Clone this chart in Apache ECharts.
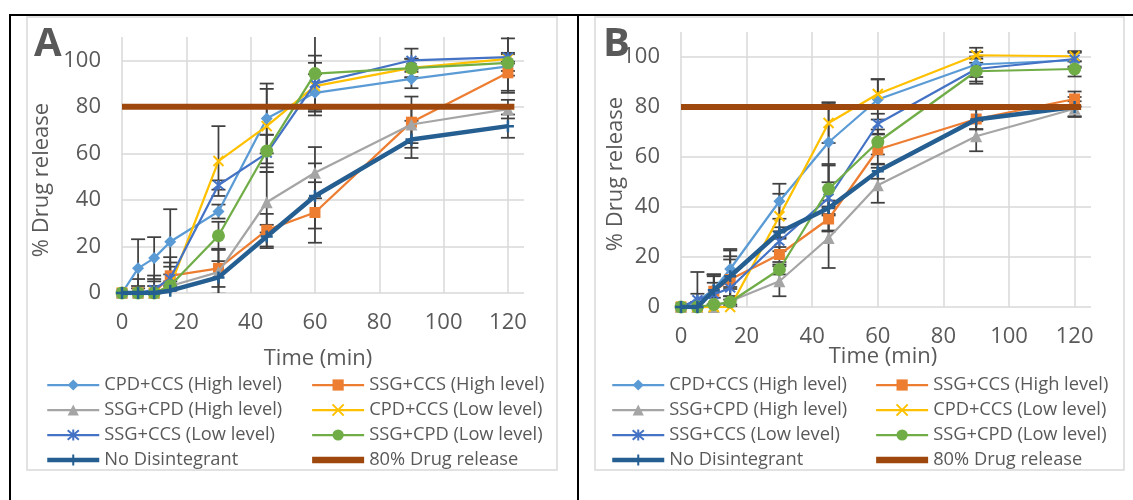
<!DOCTYPE html>
<html>
<head>
<meta charset="utf-8">
<script src="https://cdn.jsdelivr.net/npm/echarts@6/dist/echarts.min.js"></script>
<style>
  html, body { margin: 0; padding: 0; background: #ffffff; }
  #chart { width: 1133px; height: 500px; }
</style>
</head>
<body>
<div id="chart"></div>
<script>
// Sampling times (min)
const times = [0, 5, 10, 15, 30, 45, 60, 90, 120];
const xTicks = [0, 20, 40, 60, 80, 100, 120];
const yTicks = [0, 20, 40, 60, 80, 100];

const seriesNames = [
  'CPD+CCS (High level)', 'SSG+CCS (High level)', 'SSG+CPD (High level)',
  'CPD+CCS (Low level)', 'SSG+CCS (Low level)', 'SSG+CPD (Low level)',
  'No Disintegrant'
];
const targetName = '80% Drug release';
const targetLevel = 80;
const targetTimes = [0, 122];

// Panel A: mean % released
const aCpdCcsHigh = [0, 10.6, 15, 22, 35, 75, 86, 92, 97.4];
const aSsgCcsHigh = [0, 0, 0, 7.4, 10.6, 27, 34.6, 73.4, 94.6];
const aSsgCpdHigh = [0, 0, 0, 3, 9, 39, 51.7, 72.4, 79];
const aCpdCcsLow  = [0, 0, 0, 3, 56.7, 71.7, 88.9, 96.7, 100.6];
const aSsgCcsLow  = [0, 0, 1.5, 6.3, 46.4, 60, 90, 100, 101.4];
const aSsgCpdLow  = [0, 0, 0, 3.1, 24.6, 61, 94.3, 96.6, 98.9];
const aNoDisint   = [0, 0, 0, 1, 6.7, 24.3, 41.7, 66, 71.7];

// Panel A: standard deviations
const aCpdCcsHighSd = [0, 12.5, 9, 14, 3, 15, 8, 4, 2];
const aSsgCcsHighSd = [0, 0, 0, 8, 8, 7, 13, 11, 8.6];
const aSsgCpdHighSd = [0, 0, 0, 1, 10, 13, 11, 8, 4];
const aCpdCcsLowSd  = [0, 0, 0, 2, 15, 16, 10, 4, 2];
const aSsgCcsLowSd  = [0, 3, 6, 5, 2, 8, 12, 5, 8];
const aSsgCpdLowSd  = [0, 6, 5, 10, 6, 7, 18, 4, 12];
const aNoDisintSd   = [0, 2, 3, 2, 7, 5, 14, 8, 5];

// Panel B: mean % released
const bCpdCcsHigh = [0, 2.3, 7, 15.2, 42.3, 65.9, 83, 97, 98.7];
const bSsgCcsHigh = [0, 0, 6.3, 11, 21, 35.2, 63, 75.2, 83.2];
const bSsgCpdHigh = [0, 0, 0, 2.3, 10.3, 27.6, 48.7, 68.3, 79.3];
const bCpdCcsLow  = [0, 0, 0, 0, 36.3, 73.6, 85.2, 100.7, 100.3];
const bSsgCcsLow  = [0, 3, 5, 7.6, 26.3, 43.6, 73.3, 95.2, 99.2];
const bSsgCpdLow  = [0, 0, 1, 2, 15, 47.2, 66, 94.3, 95.2];
const bNoDisint   = [0, 0, 6.7, 12.3, 29.9, 39.6, 54.3, 75, 80];

// Panel B: standard deviations
const bCpdCcsHighSd = [0, 3, 6, 8, 7, 16, 8, 5, 3];
const bSsgCcsHighSd = [0, 2, 6, 8, 3, 5, 6, 4, 3];
const bSsgCpdHighSd = [0, 0, 1, 2, 6, 12, 7, 6, 3];
const bCpdCcsLowSd  = [0, 0, 0, 1, 9, 8, 6, 3, 2];
const bSsgCcsLowSd  = [0, 11, 8, 15, 4, 13, 4, 5, 3];
const bSsgCpdLowSd  = [0, 0, 12, 6, 2, 10, 5, 5, 3];
const bNoDisintSd   = [0, 2, 3, 8, 2, 3, 3, 4, 4];

const panelA = {
  means: [aCpdCcsHigh, aSsgCcsHigh, aSsgCpdHigh, aCpdCcsLow, aSsgCcsLow, aSsgCpdLow, aNoDisint],
  sds: [aCpdCcsHighSd, aSsgCcsHighSd, aSsgCpdHighSd, aCpdCcsLowSd, aSsgCcsLowSd, aSsgCpdLowSd, aNoDisintSd]
};
const panelB = {
  means: [bCpdCcsHigh, bSsgCcsHigh, bSsgCpdHigh, bCpdCcsLow, bSsgCcsLow, bSsgCpdLow, bNoDisint],
  sds: [bCpdCcsHighSd, bSsgCcsHighSd, bSsgCpdHighSd, bCpdCcsLowSd, bSsgCcsLowSd, bSsgCpdLowSd, bNoDisintSd]
};

// Marker and line styling per formulation
const styles = [
  { color: '#5B9BD5', symbol: 'diamond', size: 12, width: 2.25 },
  { color: '#ED7D31', symbol: 'rect', size: 11, width: 2.25 },
  { color: '#A5A5A5', symbol: 'triangle', size: 12, width: 2.25 },
  { color: '#FFC000', symbol: 'path://M0,0L10,10M10,0L0,10', size: 10, width: 2.25, stroke: true },
  { color: '#4472C4', symbol: 'path://M0,0L10,10M10,0L0,10M5,-1L5,11', size: 10, width: 2.25, stroke: true },
  { color: '#70AD47', symbol: 'circle', size: 13, width: 2.25 },
  { color: '#255E91', symbol: 'path://M5,0L5,10M0,5L10,5', size: 12, width: 4.5, stroke: true }
];
const targetColor = '#9E480E';
const textColor = '#595959';
const gridColor = '#D9D9D9';
const errColor = '#404040';
const fontFamily = '"Open Sans", "Noto Sans", sans-serif';

const yMax = 110;
const xMax = 125;

function makeAxes(gridIndex) {
  const xAxis = {
    type: 'value', gridIndex: gridIndex, min: 0, max: xMax, interval: 20,
    axisLine: { show: false }, axisTick: { show: false },
    axisLabel: {
      color: textColor, fontSize: 22, fontFamily: fontFamily, margin: 19,
      showMaxLabel: false,
      formatter: v => (xTicks.indexOf(v) >= 0 ? String(v) : '')
    },
    splitLine: { show: true, showMaxLine: false, lineStyle: { color: gridColor, width: 1.5 } }
  };
  const yAxis = {
    type: 'value', gridIndex: gridIndex, min: 0, max: yMax, interval: 20,
    axisLine: { show: false }, axisTick: { show: false },
    axisLabel: {
      color: textColor, fontSize: 22, fontFamily: fontFamily, margin: 21,
      showMaxLabel: false,
      formatter: v => (yTicks.indexOf(v) >= 0 ? String(v) : '')
    },
    splitLine: { show: true, showMaxLine: false, lineStyle: { color: gridColor, width: 1.5 } }
  };
  return { xAxis, yAxis };
}

function errorBarRender(params, api) {
  const x = api.value(0), m = api.value(1), e = api.value(2);
  if (!e) return null;
  const top = api.coord([x, m + e]);
  const bot = api.coord([x, m - e]);
  const half = 7;
  const st = { stroke: errColor, lineWidth: 1.75 };
  return {
    type: 'group',
    children: [
      { type: 'line', shape: { x1: top[0], y1: top[1], x2: bot[0], y2: bot[1] }, style: st },
      { type: 'line', shape: { x1: top[0] - half, y1: top[1], x2: top[0] + half, y2: top[1] }, style: st },
      { type: 'line', shape: { x1: bot[0] - half, y1: bot[1], x2: bot[0] + half, y2: bot[1] }, style: st }
    ]
  };
}

function panelSeries(panel, axisIndex) {
  const out = [];
  panel.means.forEach((vals, k) => {
    out.push({
      type: 'custom', name: 'sd ' + seriesNames[k], xAxisIndex: axisIndex, yAxisIndex: axisIndex,
      renderItem: errorBarRender, clip: true, z: 1, silent: true,
      encode: { x: 0, y: 1 },
      data: times.map((t, i) => [t, vals[i], panel.sds[k][i]])
    });
  });
  panel.means.forEach((vals, k) => {
    const s = styles[k];
    out.push({
      type: 'line', name: seriesNames[k], xAxisIndex: axisIndex, yAxisIndex: axisIndex,
      data: times.map((t, i) => [t, vals[i]]),
      symbol: s.symbol, symbolSize: s.size, showSymbol: true, z: 2 + k * 0.01,
      lineStyle: { color: s.color, width: s.width },
      itemStyle: s.stroke
        ? { color: s.color, borderColor: s.color, borderWidth: k === 6 ? 2.5 : 2 }
        : { color: s.color, borderWidth: 0 },
      emphasis: { disabled: true }
    });
  });
  out.push({
    type: 'line', name: targetName, xAxisIndex: axisIndex, yAxisIndex: axisIndex,
    data: targetTimes.map(t => [t, targetLevel]),
    symbol: 'none', showSymbol: false, z: 3,
    lineStyle: { color: targetColor, width: 6 },
    itemStyle: { color: targetColor },
    emphasis: { disabled: true }
  });
  return out;
}

const col1 = [seriesNames[0], seriesNames[2], seriesNames[4], seriesNames[6]];
const col2 = [seriesNames[1], seriesNames[3], seriesNames[5], targetName];

function legendItem(name) {
  if (name === targetName) {
    return { name: name, icon: 'path://M0,0L52,0L52,6.5L0,6.5Z', itemStyle: { color: targetColor } };
  }
  return { name: name };
}

function legendCol(left, top, names) {
  return {
    left: left, top: top, orient: 'vertical', padding: 0,
    itemGap: 7, itemWidth: 52, itemHeight: 14, selectedMode: false,
    lineStyle: { width: 'inherit' },
    textStyle: { color: textColor, fontSize: 18.3, fontFamily: fontFamily, lineHeight: 18 },
    data: names.map(legendItem)
  };
}

const axA = makeAxes(0), axB = makeAxes(1);
const titleFont = '22px "Open Sans", sans-serif';

const option = {
  animation: false,
  backgroundColor: '#ffffff',
  grid: [
    { left: 122, top: 37, width: 402, height: 256 },
    { left: 681, top: 32, width: 410, height: 275 }
  ],
  xAxis: [axA.xAxis, axB.xAxis],
  yAxis: [axA.yAxis, axB.yAxis],
  legend: [
    legendCol(45, 376, col1), legendCol(311, 376, col2),
    legendCol(610, 376, col1), legendCol(875, 376, col2)
  ],
  graphic: [
    // page frame
    { type: 'line', shape: { x1: 9, y1: 15, x2: 1133, y2: 15 }, style: { stroke: '#000', lineWidth: 2 } },
    { type: 'line', shape: { x1: 10, y1: 15, x2: 10, y2: 500 }, style: { stroke: '#000', lineWidth: 2 } },
    { type: 'line', shape: { x1: 578, y1: 15, x2: 578, y2: 500 }, style: { stroke: '#000', lineWidth: 2 } },
    // chart frames
    { type: 'rect', shape: { x: 27, y: 17, width: 530, height: 453 }, style: { fill: 'none', stroke: gridColor, lineWidth: 1.5 } },
    { type: 'rect', shape: { x: 595, y: 17, width: 529, height: 453 }, style: { fill: 'none', stroke: gridColor, lineWidth: 1.5 } },
    // panel letters
    { type: 'text', left: 34, top: 25, style: { text: 'A', font: 'bold 40px "Open Sans", sans-serif', fill: textColor } },
    { type: 'text', left: 603, top: 25, style: { text: 'B', font: 'bold 40px "Open Sans", sans-serif', fill: textColor } },
    // axis titles
    { type: 'text', x: 318, y: 359, style: { text: 'Time (min)', font: titleFont, fill: textColor, align: 'center', verticalAlign: 'middle' } },
    { type: 'text', x: 883, y: 357, style: { text: 'Time (min)', font: titleFont, fill: textColor, align: 'center', verticalAlign: 'middle' } },
    { type: 'text', x: 42, y: 180, rotation: Math.PI / 2, style: { text: '% Drug release', font: titleFont, fill: textColor, align: 'center', verticalAlign: 'middle' } },
    { type: 'text', x: 616, y: 174, rotation: Math.PI / 2, style: { text: '% Drug release', font: titleFont, fill: textColor, align: 'center', verticalAlign: 'middle' } }
  ],
  series: panelSeries(panelA, 0).concat(panelSeries(panelB, 1))
};

const chart = echarts.init(document.getElementById('chart'), null, { renderer: 'canvas' });
chart.setOption(option);
</script>
</body>
</html>
